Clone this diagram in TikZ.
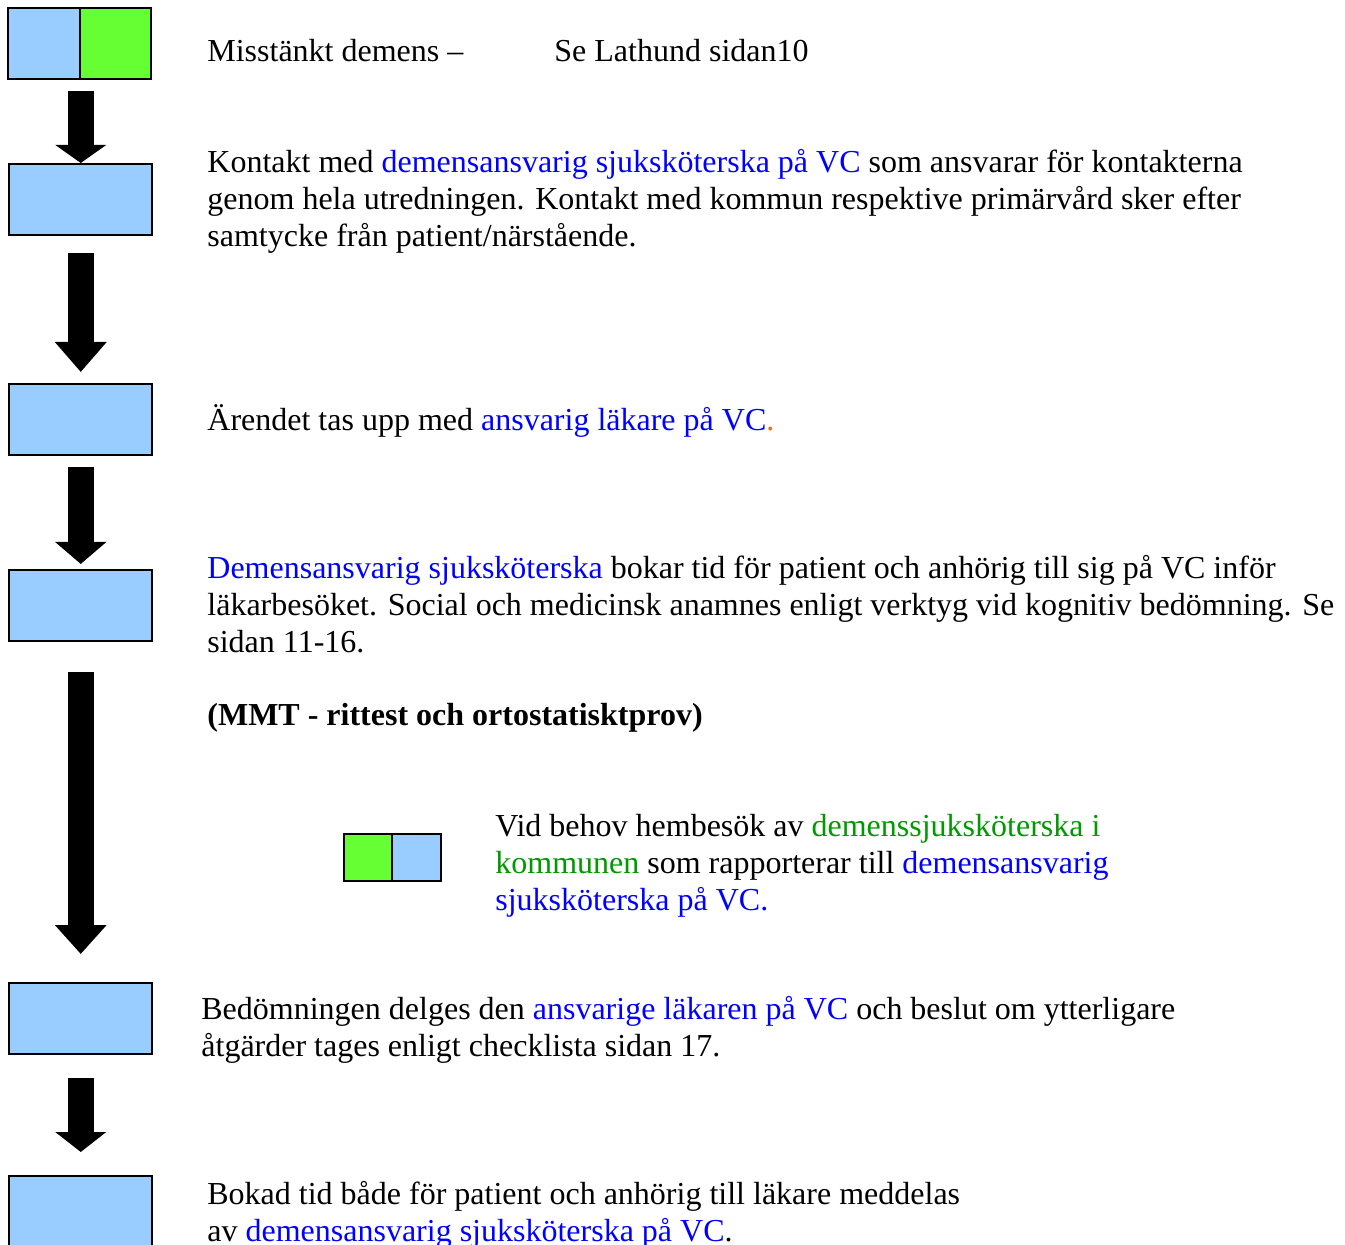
\documentclass[tikz,border=0pt]{standalone}
\usepackage{fontspec}
\setmainfont{Liberation Serif}
\usepackage{tikz}
\usetikzlibrary{positioning,arrows.meta}
\definecolor{boxblue}{HTML}{99CCFF}
\definecolor{boxgreen}{HTML}{66FF33}
\definecolor{txtblue}{HTML}{0000FF}
\definecolor{txtgreen}{HTML}{009900}
\definecolor{dotorange}{HTML}{FF6600}
\tikzset{
  blk/.style={rectangle,draw=black,fill=boxblue,line width=1pt,inner sep=0pt,
    minimum width=71.5pt,minimum height=35.5pt},
  half/.style={blk,minimum width=35.75pt},
  halfg/.style={half,fill=boxgreen},
  mini/.style={rectangle,draw=black,fill=boxblue,line width=1pt,inner sep=0pt,
    minimum width=24.25pt,minimum height=23.5pt},
  minig/.style={mini,fill=boxgreen},
  txt/.style={anchor=base west,inner sep=0pt,align=left},
  ar/.style={-{Triangle[length=#1,width=25pt]},line width=13pt,draw=black},
  ar/.default=10pt,
}
\newcommand{\bl}[1]{\textcolor{txtblue}{#1}}
\newcommand{\gr}[1]{\textcolor{txtgreen}{#1}}

\begin{document}
\begin{tikzpicture}[x=0.5pt,y=-0.5pt,font=\fontsize{16}{18.5}\selectfont]
  \useasboundingbox (0,0) rectangle (1345,1245);
  % left column of boxes
  \node[half] (b1a) at (44,43.5) {};
  \node[halfg,right=-1pt of b1a] (b1b) {};
  \node[blk,below=41.5pt of b1a.south east] (b2) {};
  \node[blk,below=73.5pt of b2] (b3) {};
  \node[blk,below=56.5pt of b3] (b4) {};
  \node[blk,below=170pt of b4] (b5) {};
  \node[blk,below=60pt of b5] (b6) {};
  % small box beside the home visit
  \node[minig] (m1) at (368,857.5) {};
  \node[mini,right=-1pt of m1] (m2) {};
  % texts (base = baseline of the last line)
  \node[txt] (t1) at (207,62) {Misstänkt demens --};
  \node[txt] (t1b) at (554,62) {Se Lathund sidan10};
  \node[txt] (t2) at (207,247) {Kontakt med \bl{demensansvarig sjuksköterska på VC} som ansvarar för kontakterna\\
    genom hela utredningen. Kontakt med kommun respektive primärvård sker efter\\
    samtycke från patient/närstående.};
  \node[txt] (t3) at (207,431) {Ärendet tas upp med \bl{ansvarig läkare på VC}\textcolor{dotorange}{.}};
  \node[txt] (t4) at (207,653) {\bl{Demensansvarig sjuksköterska} bokar tid för patient och anhörig till sig på VC inför\\
    läkarbesöket. Social och medicinsk anamnes enligt verktyg vid kognitiv bedömning. Se\\
    sidan 11-16.};
  \node[txt] (t5) at (207,726) {\textbf{(MMT - rittest och ortostatisktprov)}};
  \node[txt] (t6) at (495,910) {Vid behov hembesök av \gr{demenssjuksköterska i}\\
    \gr{kommunen} som rapporterar till \bl{demensansvarig}\\
    \bl{sjuksköterska på VC.}};
  \node[txt] (t7) at (201,1056) {Bedömningen delges den \bl{ansvarige läkaren på VC} och beslut om ytterligare\\
    åtgärder tages enligt checklista sidan 17.};
  \node[txt] (t8) at (207,1241) {Bokad tid både för patient och anhörig till läkare meddelas\\
    av \bl{demensansvarig sjuksköterska på VC}.};
  % arrows
  \draw[ar=9pt,shorten <=5.5pt] (b1a.south east) -- (b2.north);
  \draw[ar=15pt,shorten <=8.5pt,shorten >=5.5pt] (b2) -- (b3);
  \draw[ar=11pt,shorten <=5.5pt,shorten >=2.5pt] (b3) -- (b4);
  \draw[ar=14.5pt,shorten <=15pt,shorten >=14pt] (b4) -- (b5);
  \draw[ar,shorten <=11.5pt,shorten >=11.5pt] (b5) -- (b6);
\end{tikzpicture}
\end{document}
